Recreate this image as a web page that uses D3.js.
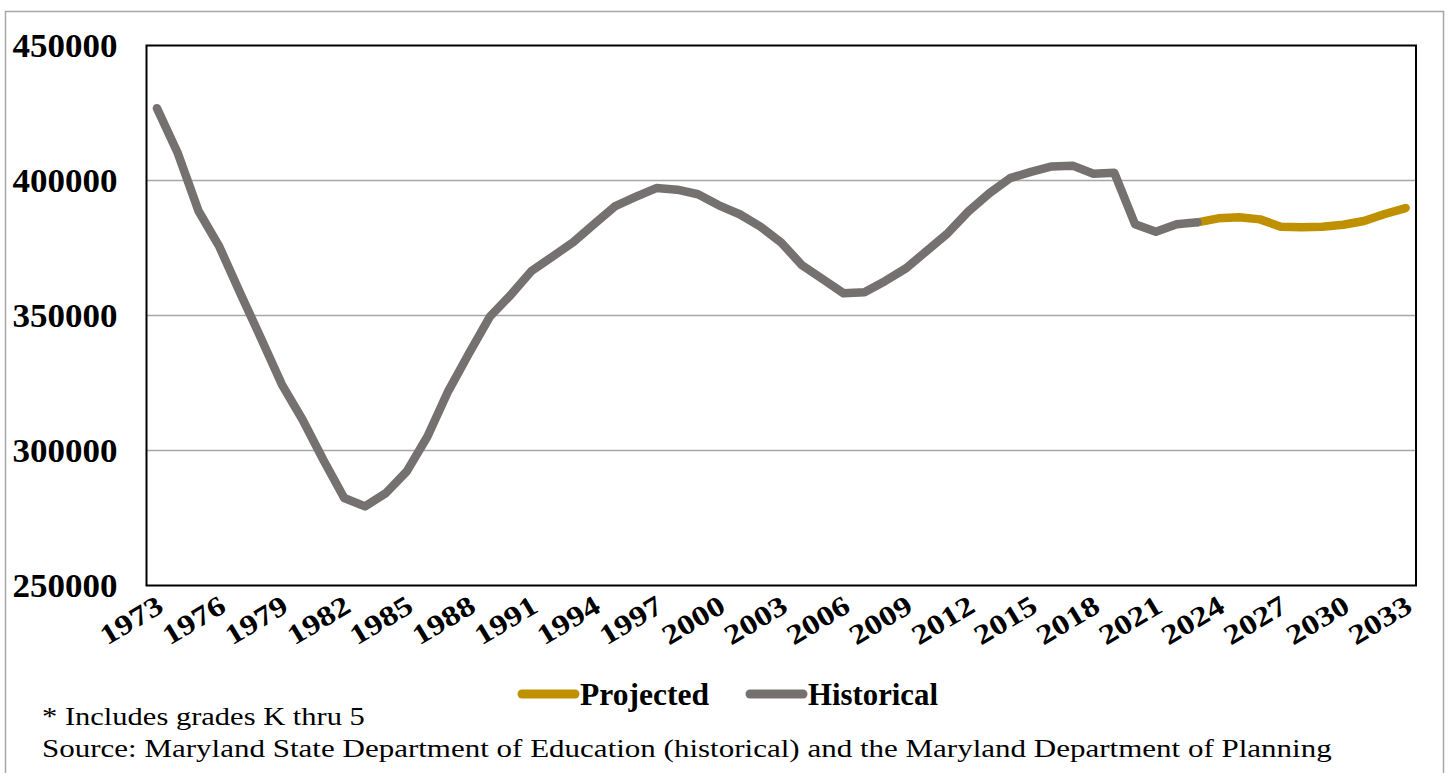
<!DOCTYPE html>
<html>
<head>
<meta charset="utf-8">
<script src="https://cdn.jsdelivr.net/npm/d3@7"></script>
<style>
  html, body { margin: 0; padding: 0; background: #ffffff; }
  svg { display: block; }
</style>
</head>
<body>
<svg id="chart" width="1449" height="773"></svg>
<script>
// ---------- data ----------
const years = d3.range(1973, 2034);
const historicalYears = d3.range(1973, 2024);
const historicalValues = [
  426800, 410200, 388700, 375500, 358300, 341600, 324500, 311400, 296500, 282400,
  279300, 284200, 292200, 305200, 322000, 336000, 349600, 357600, 366500, 371800,
  377100, 383800, 390400, 393900, 397200, 396600, 394900, 390800, 387500, 382900,
  377000, 368600, 363400, 358200, 358600, 362800, 367500, 374000, 380500, 388600,
  395300, 400900, 403200, 405200, 405500, 402500, 402900, 383800, 381000, 383800,
  384500
];
const projectedYears = d3.range(2023, 2034);
const projectedValues = [
  384500, 386000, 386400, 385600, 382900, 382700, 382900, 383600, 385000, 387600, 389800
];
const yTicks = [250000, 300000, 350000, 400000, 450000];
const xTickYears = d3.range(1973, 2034, 3);
const seriesNames = ["Projected", "Historical"];
const seriesColors = ["#BF9000", "#767171"];
const notes = [
  "* Includes grades K thru 5",
  "Source: Maryland State Department of Education (historical) and the Maryland Department of Planning"
];

// ---------- layout ----------
const svg = d3.select("#chart");
const plot = { left: 146.5, right: 1416, top: 45.5, bottom: 585.5 };
const serif = "'Liberation Serif', 'Times New Roman', serif";

// outer frame
svg.append("rect")
  .attr("x", 5.5).attr("y", 11.5)
  .attr("width", 1438).attr("height", 790)
  .attr("fill", "none").attr("stroke", "#a6a6a6").attr("stroke-width", 1.5);

const x = d3.scaleBand().domain(years).range([plot.left, plot.right]).padding(0);
const xc = d => x(d) + x.bandwidth() / 2;
const y = d3.scaleLinear().domain([250000, 450000]).range([plot.bottom, plot.top]);

// gridlines
svg.append("g")
  .selectAll("line")
  .data(yTicks.filter(t => t > 250000 && t < 450000))
  .join("line")
  .attr("x1", plot.left).attr("x2", plot.right)
  .attr("y1", d => y(d)).attr("y2", d => y(d))
  .attr("stroke", "#a6a6a6").attr("stroke-width", 1.5);

// y axis labels
const yAxis = d3.axisLeft(y).tickValues(yTicks).tickSize(0).tickPadding(29).tickFormat(d3.format("d"));
const gy = svg.append("g").attr("transform", `translate(${plot.left},0)`).call(yAxis);
gy.select(".domain").remove();
gy.selectAll("text")
  .attr("font-family", serif).attr("font-weight", "bold")
  .attr("font-size", 34).attr("fill", "#000").attr("dy", "0.32em")
  .attr("textLength", 105).attr("lengthAdjust", "spacingAndGlyphs");

// x axis labels
const xAxis = d3.axisBottom(x).tickValues(xTickYears).tickSize(0).tickPadding(0);
const gx = svg.append("g").attr("transform", `translate(0,${plot.bottom})`).call(xAxis);
gx.select(".domain").remove();
gx.selectAll("text")
  .attr("font-family", serif).attr("font-weight", "bold")
  .attr("font-size", 28).attr("fill", "#000")
  .attr("text-anchor", "end")
  .attr("y", 0).attr("dy", "0.72em")
  .attr("textLength", 68).attr("lengthAdjust", "spacingAndGlyphs")
  .attr("transform", "translate(-2,8) rotate(-31)");

// lines
const line = d3.line().x(d => xc(d[0])).y(d => y(d[1]));
const projData = projectedYears.map((yr, i) => [yr, projectedValues[i]]);
const histData = historicalYears.map((yr, i) => [yr, historicalValues[i]]);

svg.append("path").datum(projData)
  .attr("d", line).attr("fill", "none")
  .attr("stroke", seriesColors[0]).attr("stroke-width", 8.5)
  .attr("stroke-linecap", "round").attr("stroke-linejoin", "round");
svg.append("path").datum(histData)
  .attr("d", line).attr("fill", "none")
  .attr("stroke", seriesColors[1]).attr("stroke-width", 8.5)
  .attr("stroke-linecap", "round").attr("stroke-linejoin", "round");

// plot border
svg.append("rect")
  .attr("x", plot.left).attr("y", plot.top)
  .attr("width", plot.right - plot.left).attr("height", plot.bottom - plot.top)
  .attr("fill", "none").attr("stroke", "#000").attr("stroke-width", 2);

// legend
const legendItems = [
  { name: seriesNames[0], color: seriesColors[0], x0: 522, x1: 575, tx: 580, w: 129 },
  { name: seriesNames[1], color: seriesColors[1], x0: 750, x1: 803, tx: 808, w: 130 }
];
const lg = svg.append("g");
legendItems.forEach(it => {
  lg.append("line")
    .attr("x1", it.x0).attr("x2", it.x1).attr("y1", 694).attr("y2", 694)
    .attr("stroke", it.color).attr("stroke-width", 9).attr("stroke-linecap", "round");
  lg.append("text")
    .attr("x", it.tx).attr("y", 705)
    .attr("font-family", serif).attr("font-weight", "bold").attr("font-size", 31)
    .attr("textLength", it.w).attr("lengthAdjust", "spacingAndGlyphs")
    .attr("fill", "#000").text(it.name);
});

// notes (glyphs widened horizontally to match the wider original face)
function note(txt, yPos, targetW) {
  const t = svg.append("text")
    .attr("x", 0).attr("y", 0)
    .attr("font-family", serif).attr("font-size", 26).attr("fill", "#000")
    .text(txt);
  const w = t.node().getComputedTextLength();
  t.attr("transform", `translate(42,${yPos}) scale(${targetW / w},1)`);
}
note(notes[0], 725, 323);
note(notes[1], 757, 1290);
</script>
</body>
</html>
